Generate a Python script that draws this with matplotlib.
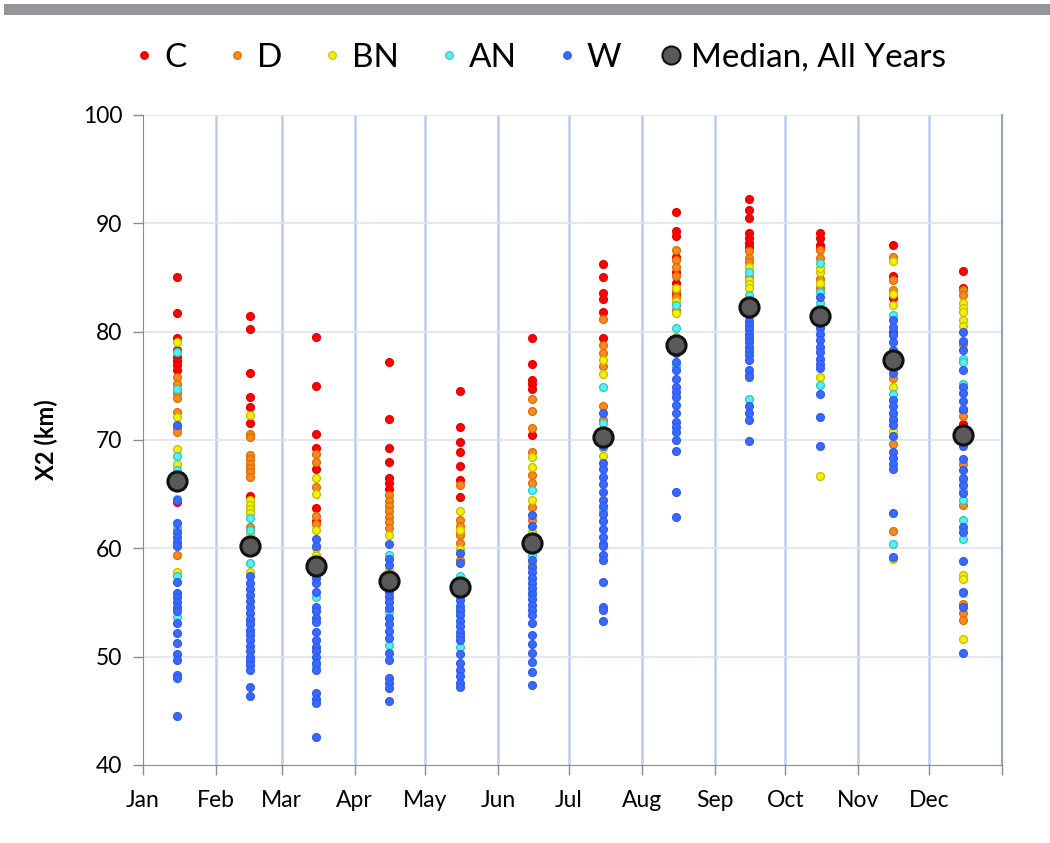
import matplotlib
matplotlib.use("Agg")
import matplotlib.pyplot as plt
from matplotlib.lines import Line2D
from matplotlib.patches import Rectangle
import numpy as np

plt.rcParams['font.family'] = ['Lato', 'DejaVu Sans']

months = ["Jan", "Feb", "Mar", "Apr", "May", "Jun", "Jul", "Aug", "Sep", "Oct", "Nov", "Dec"]
month_days = [31, 28, 31, 30, 31, 30, 31, 31, 30, 31, 30, 31]
categories = ["C", "D", "BN", "AN", "W"]

C = [
    [85.0, 81.7, 79.4, 78.3, 77.7, 77.3, 76.9, 76.5, 64.3],
    [81.4, 80.2, 76.2, 74.0, 73.0, 71.6, 64.8],
    [79.5, 75.0, 70.6, 69.3, 67.3, 63.7, 62.5],
    [77.2, 71.9, 69.3, 68.0, 66.5, 66.0, 65.5],
    [74.5, 71.2, 69.8, 68.9, 67.6, 66.3, 64.7],
    [79.4, 77.0, 75.5, 75.2, 74.7, 70.5],
    [86.2, 85.0, 83.6, 83.0, 81.8, 79.4],
    [91.0, 89.3, 88.8, 86.9, 85.5, 84.5, 83.5],
    [92.2, 91.2, 90.5, 89.1, 88.6, 88.2, 87.8],
    [89.1, 88.6, 88.0, 87.7],
    [88.0, 85.1, 83.1, 80.0],
    [85.6, 84.0, 72.8, 71.5],
]
D = [
    [75.8, 75.2, 74.3, 73.9, 72.6, 71.1, 70.7, 59.4],
    [70.6, 70.3, 68.6, 68.2, 67.8, 67.4, 67.0, 66.6, 62.0],
    [68.7, 68.0, 65.7, 63.0, 62.2],
    [64.9, 64.4, 63.9, 63.4, 62.9, 62.4, 61.9],
    [65.8, 62.6, 62.1, 61.6, 61.2, 60.5, 58.9],
    [73.8, 72.7, 71.1, 68.9, 66.8, 66.0, 63.8, 62.6],
    [81.2, 78.8, 78.0, 76.8, 73.1, 71.8],
    [87.5, 86.6, 86.0, 85.1, 83.8, 83.2, 82.0],
    [87.4, 86.8, 86.4, 85.0],
    [87.5, 86.8, 84.9, 84.0],
    [86.9, 84.8, 83.8, 75.7, 69.6, 61.6],
    [83.8, 83.4, 78.9, 72.2, 67.8, 64.0, 54.9, 54.0, 53.4],
]
BN = [
    [79.0, 72.1, 69.2, 67.8, 65.7, 66.8, 57.8],
    [72.3, 64.5, 64.0, 63.6, 63.3, 57.8, 61.2],
    [66.5, 65.0, 61.7, 59.4, 60.0],
    [61.2, 58.0],
    [63.4, 61.7, 59.9],
    [68.4, 67.5, 64.5, 58.6, 61.5],
    [77.4, 76.1, 69.3, 68.5],
    [84.0, 82.8, 81.7, 79.5],
    [86.0, 84.8, 84.4, 84.0],
    [85.5, 84.5, 85.9, 75.8, 66.7],
    [86.5, 83.5, 82.5, 74.9, 72.0, 70.8, 59.0],
    [82.6, 82.2, 81.8, 81.1, 80.5, 66.3, 65.4, 57.5, 57.2, 51.6],
]
AN = [
    [78.1, 74.7, 68.5, 67.2, 64.6, 61.9, 57.4, 53.7],
    [62.8, 61.7, 58.6, 53.4, 52.2],
    [55.5, 49.1],
    [59.4, 54.1, 51.1],
    [57.4, 54.0, 50.9],
    [65.4, 59.4, 56.0],
    [74.9, 71.6, 63.5],
    [82.5, 80.3, 76.8],
    [85.5, 83.4, 82.0, 73.8],
    [86.3, 83.7, 82.6, 75.1],
    [81.5, 74.2, 60.4],
    [77.5, 77.2, 75.2, 64.5, 62.6, 60.9, 55.9],
]
W = [
    [71.4, 64.5, 62.3, 61.5, 61.0, 60.6, 60.2, 56.9, 55.9, 55.5, 55.0, 54.6, 54.2, 53.1, 52.2, 51.3, 50.2, 49.7, 48.3, 48.0, 44.5],
    [60.6, 57.4, 56.8, 56.2, 55.7, 55.1, 54.6, 54.0, 53.5, 53.0, 52.5, 52.0, 51.5, 51.0, 50.5, 50.0, 49.6, 49.2, 48.8, 47.2, 46.4],
    [60.9, 60.2, 57.3, 56.8, 56.0, 54.6, 54.2, 53.6, 53.2, 52.3, 51.5, 50.9, 50.5, 50.0, 49.4, 48.8, 46.6, 46.1, 45.7, 42.6],
    [60.4, 59.0, 58.5, 56.6, 56.0, 55.5, 55.0, 54.5, 53.6, 53.0, 52.4, 51.7, 50.3, 49.7, 48.0, 47.6, 47.1, 45.9],
    [59.6, 58.6, 55.6, 55.2, 54.7, 54.3, 53.8, 53.3, 52.8, 52.3, 51.9, 51.5, 50.2, 49.4, 48.8, 48.2, 47.6, 47.2],
    [63.1, 62.1, 60.0, 58.9, 58.3, 57.8, 57.3, 56.8, 56.3, 55.8, 55.3, 54.8, 54.3, 53.8, 53.1, 52.0, 51.2, 50.3, 49.5, 48.6, 47.4],
    [72.5, 69.4, 67.9, 67.3, 66.6, 65.9, 65.2, 64.5, 63.9, 63.2, 62.5, 61.8, 61.0, 60.4, 60.2, 59.4, 58.9, 56.9, 54.6, 54.3, 53.3],
    [78.0, 77.2, 76.5, 75.6, 74.9, 74.4, 74.0, 73.2, 72.5, 71.7, 71.2, 70.7, 70.0, 69.0, 65.2, 62.9],
    [81.4, 81.0, 80.6, 80.2, 79.8, 79.4, 79.0, 78.6, 78.2, 77.8, 77.4, 76.5, 76.0, 75.8, 73.1, 72.5, 71.8, 69.9],
    [83.2, 80.8, 80.3, 79.8, 79.2, 78.6, 78.1, 77.5, 77.0, 76.6, 74.2, 72.1, 69.4],
    [81.1, 80.4, 79.7, 79.0, 78.3, 77.7, 76.8, 76.2, 73.7, 73.1, 72.5, 71.8, 71.4, 70.4, 68.9, 68.3, 67.8, 67.3, 63.3, 59.2],
    [80.0, 79.1, 78.3, 76.5, 74.9, 74.3, 73.6, 72.9, 70.0, 69.4, 68.2, 67.2, 66.5, 65.8, 65.1, 62.0, 61.5, 58.8, 56.0, 54.6, 50.3],
]
median_all = [66.2, 60.2, 58.4, 57.0, 56.4, 60.5, 70.3, 78.8, 82.3, 81.4, 77.4, 70.5]

series = {"C": C, "D": D, "BN": BN, "AN": AN, "W": W}
fills = {"C": "#FF0000", "D": "#F58A1F", "BN": "#F2F200", "AN": "#5CEDED", "W": "#3B69FF"}
edges = {"C": "#E80000", "D": "#E06C00", "BN": "#C4BE00", "AN": "#2FC6C6", "W": "#2E5CF0"}

month_start = np.concatenate([[0], np.cumsum(month_days)])
mid = month_start[:-1] + 14.5

fig = plt.figure(figsize=(10.5, 8.43), dpi=100)
fig.patches.append(Rectangle((4 / 1050, 1 - 15 / 843), 1, 11 / 843, transform=fig.transFigure,
                             facecolor="#939598", edgecolor="none", zorder=0))
ax = fig.add_axes([143 / 1050, 1 - 765 / 843, (1002 - 143) / 1050, (765 - 115) / 843])

for k in categories:
    xs, ys = [], []
    for m in range(12):
        xs += [mid[m]] * len(series[k][m])
        ys += series[k][m]
    ax.scatter(xs, ys, s=32, c=fills[k], edgecolors=edges[k], linewidths=0.9, zorder=3)

ax.scatter(mid, median_all, s=190, c="#595959", edgecolors="#111111", linewidths=2.2, zorder=5)

ax.set_xlim(0, 365)
ax.set_ylim(40, 100)
ax.set_xticks(month_start)
ax.set_xticklabels(months + [""])
ax.set_yticks(np.arange(40, 101, 10))
for xv in month_start[1:-1]:
    ax.axvline(xv, color="#BACDEE", lw=1.8, zorder=1)
for yv in range(50, 101, 10):
    ax.axhline(yv, color="#DCE4F2", lw=1.2, zorder=1)

ax.spines["top"].set_visible(False)
ax.spines["left"].set_color("#8C8C8C")
ax.spines["bottom"].set_color("#8C8C8C")
ax.spines["right"].set_color("#8FA3C6")
ax.spines["right"].set_linewidth(1.5)
ax.tick_params(axis="both", colors="#8C8C8C", length=7, width=1, labelcolor="#000000", labelsize=16.5)
ax.tick_params(axis="x", pad=11)
ax.tick_params(axis="y", pad=8)
ax.set_ylabel("X2 (km)", fontsize=17, fontweight="bold", labelpad=18)

handles = [Line2D([], [], ls="none", marker="o", markersize=5.5, markerfacecolor=fills[k],
                  markeredgecolor=edges[k], markeredgewidth=0.8) for k in categories]
handles.append(Line2D([], [], ls="none", marker="o", markersize=13, markerfacecolor="#595959",
                      markeredgecolor="#111111", markeredgewidth=1.5))
fig.legend(handles, categories + ["Median, All Years"], loc="center", ncol=6,
           bbox_to_anchor=(537 / 1050, 1 - 58 / 843), frameon=False, fontsize=24,
           handletextpad=0.1, columnspacing=1.0, handlelength=1.0)

fig.savefig("out.png", dpi=100, facecolor="white")
